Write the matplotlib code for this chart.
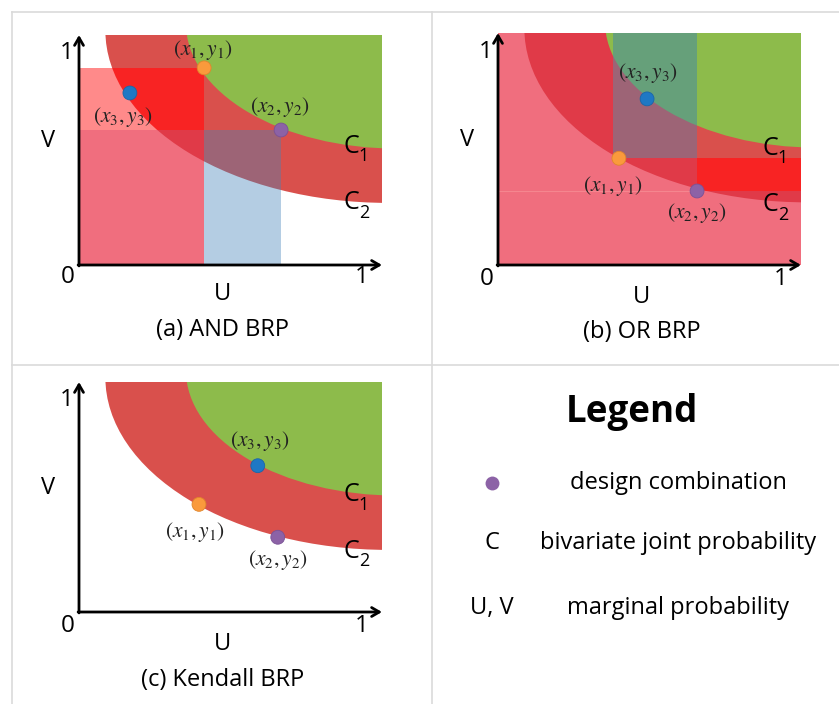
import matplotlib
matplotlib.use('Agg')
import matplotlib.pyplot as plt
from matplotlib.patches import Ellipse, Rectangle
from matplotlib.lines import Line2D

# ---------------- data ----------------
# level curves drawn as quarter-ellipses (centre, semi-axes) in (U, V) space
C1_CENTER = (1.05, 1.05)
C1_RADII = (0.697, 0.544)
C2_CENTER = (1.02, 1.02)
C2_RADII = (0.933, 0.750)

# design combinations (x1,y1), (x2,y2), (x3,y3)
AND_U = [0.413, 0.667, 0.168]
AND_V = [0.857, 0.587, 0.748]
OR_U = [0.399, 0.657, 0.492]
OR_V = [0.460, 0.319, 0.716]
OR_U_EDGES = [0.381, 0.657]
OR_V_EDGES = [0.460, 0.319]
KEN_U = [0.396, 0.656, 0.590]
KEN_V = [0.468, 0.325, 0.636]

POINT_LABELS = [r'$(x_1, y_1)$', r'$(x_2, y_2)$', r'$(x_3, y_3)$']
POINT_COLORS = ['#FA9A3C', '#8C62A6', '#1F78C4']
POINT_EDGES = ['#E0862C', '#7A5296', '#1A66A8']
CAPTIONS = ['(a) AND BRP', '(b) OR BRP', '(c) Kendall BRP']
CURVE_SUBS = ['1', '2']
LEGEND_TITLE = 'Legend'
LEGEND_SYMBOLS = ['', 'C', 'U, V']
LEGEND_TEXTS = ['design combination', 'bivariate joint probability', 'marginal probability']

# colours
BAND = '#D9504C'
GREEN = '#8DBB4B'
SALMON = '#FF8A8A'
BRIGHT = '#F82323'
PINK = '#F06E7E'
DARKBAND = '#E03A48'
LIGHTBLUE = '#B4CDE3'
PURPLE = '#9D6476'
TEAL = '#66A07A'
GRID = '#DADADA'

SANS = ['Open Sans', 'DejaVu Sans']
plt.rcParams['font.family'] = SANS

W, H = 839, 704
fig = plt.figure(figsize=(W / 100, H / 100), dpi=100)


def make_ax(x0, y_top, w, h):
    ax = fig.add_axes([x0 / W, 1 - (y_top + h) / H, w / W, h / H])
    ax.set_xlim(0, 1)
    ax.set_ylim(0, 1)
    ax.axis('off')
    return ax


def ell(ax, center, radii, **kw):
    return Ellipse(center, 2 * radii[0], 2 * radii[1], transform=ax.transData, **kw)


def rect(ax, x0, x1, y0, y1, color, clip=None, z=2):
    r = Rectangle((x0, y0), x1 - x0, y1 - y0, fc=color, ec='none', lw=0, zorder=z)
    if clip is not None:
        r.set_clip_path(ell(ax, *clip))
    ax.add_patch(r)


def curves(ax, band_color=BAND, green=True, zb=1, zg=5):
    ax.add_patch(Ellipse(C2_CENTER, 2 * C2_RADII[0], 2 * C2_RADII[1],
                         fc=band_color, ec='none', lw=0, zorder=zb))
    if green:
        ax.add_patch(Ellipse(C1_CENTER, 2 * C1_RADII[0], 2 * C1_RADII[1],
                             fc=GREEN, ec='none', lw=0, zorder=zg))


def axes_arrows(ax):
    kw = dict(arrowstyle='->,head_length=0.55,head_width=0.32', lw=2, color='black',
              shrinkA=0, shrinkB=0)
    ax.annotate('', xy=(1, 0), xytext=(-0.003, 0), arrowprops=kw,
                annotation_clip=False, zorder=10)
    ax.annotate('', xy=(0, 1.0), xytext=(0, -0.004), arrowprops=kw,
                annotation_clip=False, zorder=10)


def decorations(ax, caption, cap_v, c1v, c2v, lab_v):
    t = dict(ha='center', va='center', clip_on=False, zorder=11)
    ax.text(-0.036, lab_v, '0', fontsize=17.5, **t)
    ax.text(0.934, lab_v, '1', fontsize=17.5, **t)
    ax.text(-0.040, 0.92, '1', fontsize=17.5, **t)
    ax.text(-0.102, 0.54, 'V', fontsize=17, **t)
    ax.text(0.475, lab_v - 0.076, 'U', fontsize=17, **t)
    ax.text(0.473, cap_v, caption, fontsize=17, **t)
    for v, sub in zip((c1v, c2v), CURVE_SUBS):
        ax.text(0.900, v, 'C', fontsize=18, **t)
        ax.text(0.940, v - 0.042, sub, fontsize=13, **t)


def points(ax, us, vs, label_pos):
    ax.scatter(us, vs, s=100, c=POINT_COLORS, edgecolors=POINT_EDGES,
               linewidths=0.6, zorder=9, clip_on=False)
    for lab, (lu, lv) in zip(POINT_LABELS, label_pos):
        ax.text(lu, lv, lab, fontsize=15.5, ha='center', va='center',
                math_fontfamily='stix', color='#222222', zorder=11, clip_on=False)


# ---------------- panel (a) AND ----------------
axa = make_ax(79, 35, 303, 230)
curves(axa, zg=6)
x1, x2 = AND_U[0], AND_U[1]
y1, y2 = AND_V[0], AND_V[1]
band = (C2_CENTER, C2_RADII)
rect(axa, 0, x1, y2, y1, SALMON, z=2)
rect(axa, 0, x1, y2, y1, BRIGHT, clip=band, z=3)
rect(axa, 0, x1, 0, y2, PINK, z=2)
rect(axa, 0, x1, 0, y2, DARKBAND, clip=band, z=3)
rect(axa, x1, x2, 0, y2, LIGHTBLUE, z=2)
rect(axa, x1, x2, 0, y2, PURPLE, clip=band, z=3)
axes_arrows(axa)
decorations(axa, CAPTIONS[0], -0.283, 0.517, 0.270, -0.052)
points(axa, AND_U, AND_V, [(0.409, 0.935), (0.663, 0.687), (0.145, 0.643)])

# ---------------- panel (b) OR ----------------
axb = make_ax(498, 33, 303, 232)
rect(axb, 0, 1, 0, 1, PINK, z=0)
curves(axb, band_color=DARKBAND, zb=1, zg=2)
green = (C1_CENTER, C1_RADII)
ex1, ex2 = OR_U_EDGES
ey1, ey2 = OR_V_EDGES
rect(axb, ex1, ex2, ey1, 1, PURPLE, clip=band, z=3)
rect(axb, ex1, ex2, ey1, 1, TEAL, clip=green, z=4)
rect(axb, ex2, 1, ey1, 1, BAND, clip=band, z=3)
rect(axb, ex2, 1, ey1, 1, GREEN, clip=green, z=4)
rect(axb, ex2, 1, ey2, ey1, BRIGHT, clip=band, z=3)
axb.plot([0, ex2], [ey2, ey2], color='#F5868F', lw=0.8, zorder=2.5)
axes_arrows(axb)
decorations(axb, CAPTIONS[1], -0.289, 0.503, 0.259, -0.060)
points(axb, OR_U, OR_V, [(0.380, 0.341), (0.657, 0.224), (0.495, 0.828)])

# ---------------- panel (c) Kendall ----------------
axc = make_ax(79, 382, 303, 230)
curves(axc)
axes_arrows(axc)
decorations(axc, CAPTIONS[2], -0.296, 0.509, 0.262, -0.061)
points(axc, KEN_U, KEN_V, [(0.383, 0.348), (0.657, 0.226), (0.597, 0.743)])

# ---------------- legend panel ----------------
fig.text(632 / W, 1 - 412 / H, LEGEND_TITLE, fontsize=26.5, fontweight='bold',
         ha='center', va='center')
row_y = [483, 543, 608]
for i, (sym, txt) in enumerate(zip(LEGEND_SYMBOLS, LEGEND_TEXTS)):
    yy = 1 - row_y[i] / H
    if i == 0:
        fig.add_artist(Line2D([492 / W], [yy], marker='o', markersize=10,
                              color=POINT_COLORS[1], markeredgewidth=0,
                              transform=fig.transFigure))
    else:
        fig.text(492 / W, yy, sym, fontsize=17, ha='center', va='center')
    fig.text(678 / W, yy, txt, fontsize=17, ha='center', va='center')

# ---------------- grid lines ----------------
for xs, ys in [([12, W], [12, 12]), ([12, 12], [12, H]),
               ([432, 432], [12, H]), ([12, W], [365, 365])]:
    fig.add_artist(Line2D([x / W for x in xs], [1 - y / H for y in ys],
                          color=GRID, lw=1.2, transform=fig.transFigure))

fig.savefig('out.png', dpi=100)
